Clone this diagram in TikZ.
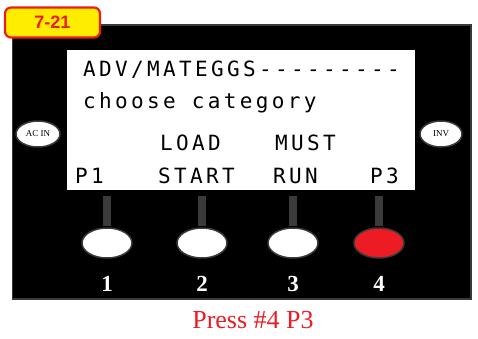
\documentclass[tikz,border=0pt]{standalone}
\usepackage{fontspec}
\setmainfont{Liberation Serif}
\newfontfamily\lcdfont[LetterSpace=16]{DejaVu Sans Mono}
\newfontfamily\tagfont{Liberation Sans}
\usetikzlibrary{shapes.geometric}
\definecolor{tagred}{RGB}{237,28,36}
\definecolor{tagyellow}{RGB}{255,237,0}
\definecolor{stemgray}{RGB}{58,58,58}

\begin{document}
\begin{tikzpicture}[x=1pt, y=-1pt,
  lcdtext/.style={font=\lcdfont\fontsize{21}{24}\selectfont, inner sep=0pt, anchor=base west},
  sidelamp/.style={ellipse, draw=stemgray, line width=1.5pt, fill=white, minimum width=44pt, minimum height=26pt, inner sep=0pt, font=\fontsize{9}{10}\selectfont},
  keybtn/.style={ellipse, draw=stemgray, line width=1.5pt, fill=white, minimum width=50pt, minimum height=30pt, inner sep=0pt},
  keynum/.style={text=white, font=\bfseries\fontsize{23}{24}\selectfont, inner sep=0pt},
  stem/.style={stemgray, line width=8pt}]
  \useasboundingbox (0,0) rectangle (478,338);
  % panel and screen
  \draw[fill=black, draw=stemgray, line width=1.5pt] (12.5,25) rectangle (471,299);
  \fill[white] (67,50) rectangle (415,190);
  % screen text
  \node[lcdtext] (row1) at (83,76) {ADV/MATEGGS---------};
  \node[lcdtext] (row2) at (83,108) {choose category};
  \node[lcdtext] (load) at (160,150) {LOAD};
  \node[lcdtext] (must) at (275,150) {MUST};
  \node[lcdtext] (p1) at (75,183) {P1};
  \node[lcdtext] (start) at (158,183) {START};
  \node[lcdtext] (run) at (273,183) {RUN};
  \node[lcdtext] (p3) at (370,183) {P3};
  % side lamps
  \node[sidelamp] (acin) at (38,134) {AC IN};
  \node[sidelamp, minimum width=42pt] (inv) at (441,134) {INV};
  % soft keys
  \node[keybtn] (b1) at (107,243) {};
  \node[keybtn] (b2) at (202,243) {};
  \node[keybtn] (b3) at (293,243) {};
  \node[keybtn, fill=tagred] (b4) at (379,243) {};
  \foreach \k in {1,...,4}{
    \draw[stem] ([yshift=1pt]b\k.north) -- ++(0,-30);
    \node[keynum] (n\k) at ([yshift=-25pt]b\k.south) {\k};
  }
  % step tag
  \node[draw=tagred, line width=2.2pt, fill=tagyellow, rounded corners=6pt,
        minimum width=95pt, minimum height=30pt, inner sep=0pt,
        text=tagred, font=\tagfont\bfseries\fontsize{18}{20}\selectfont] (tag) at (52.5,22.5) {7-21};
  % caption
  \node[text=tagred, font=\fontsize{26}{28}\selectfont, inner sep=0pt] (cap) at (253,320) {Press \#4 P3};
\end{tikzpicture}
\end{document}
